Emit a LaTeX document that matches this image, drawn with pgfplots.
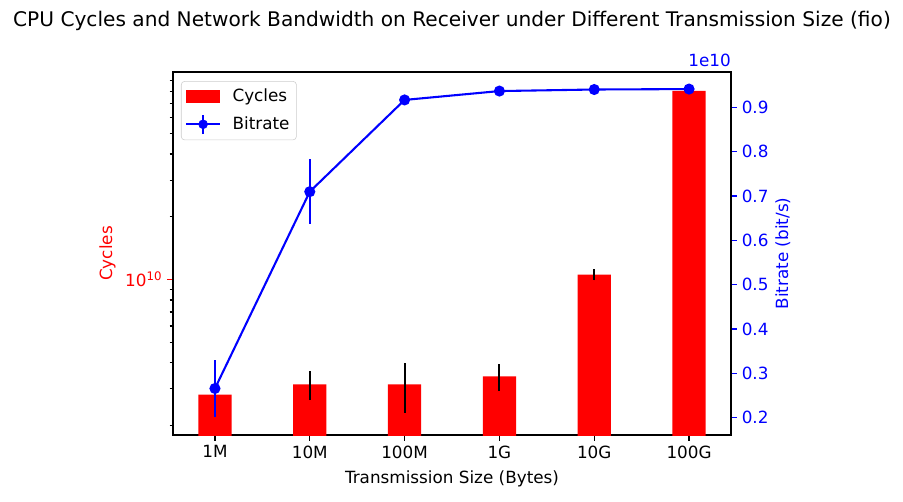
\documentclass[border=0pt]{standalone}
\usepackage{fontspec}
\setmainfont{DejaVu Sans}
\usepackage{pgfplots}
\pgfplotsset{compat=1.18}
\definecolor{legframe}{rgb}{0.8,0.8,0.8}

\pgfplotstableread{
x  y       e
0  2.815e9 0
1  3.146e9 0.50e9
2  3.146e9 0.84e9
3  3.434e9 0.50e9
4  1.057e10 0.064e10
5  8.03e10 0
}\cycles

% bitrate in units of 1e10 bit/s
\pgfplotstableread{
x  y      e
0  0.266  0.065
1  0.710  0.073
2  0.917  0.004
3  0.937  0.003
4  0.9405 0.002
5  0.9415 0.002
}\bitrate

\begin{document}
\begin{tikzpicture}[font=\fontsize{12.1}{14}\selectfont]
\pgfplotsset{
  every axis/.append style={
    width=401.8pt, height=261.4pt, scale only axis,
    xmin=-0.4425, xmax=5.4425,
    tick align=outside,
    major tick length=4.2pt, minor tick length=2.4pt,
    axis line style={line width=0.9pt},
    every tick/.style={line width=0.9pt},
    /pgf/number format/assume math mode=true,
  },
}
\begin{axis}[
  name=ax,
  ymode=log, ymin=1.8e9, ymax=9.9e10,
  xtick={0,...,5}, xticklabels={1M,10M,100M,1G,10G,100G},
  xtick pos=bottom, ytick pos=left,
  ytick={1e10}, yticklabels={10\textsuperscript{10}},
  minor ytick={2e9,3e9,4e9,5e9,6e9,7e9,8e9,9e9,2e10,3e10,4e10,5e10,6e10,7e10,8e10,9e10},
  yticklabel style={red},
  major y tick style={red},
  xlabel={Transmission Size (Bytes)},
  xlabel style={yshift=-2pt},
  ylabel={Cycles}, ylabel style={red, yshift=0pt},
  legend style={at={(0.0143,0.975)}, anchor=north west, draw=legframe,
    rounded corners=2.5pt, inner xsep=3pt, inner ysep=3.5pt, row sep=5pt,
    font=\fontsize{12.1}{14}\selectfont, cells={anchor=west}},
]
\addplot[ybar, bar width=0.35, fill=red, draw=none,
  legend image code/.code={\fill[red, sharp corners] (0pt,-4.5pt) rectangle (24pt,4.5pt);
    \path (31pt,0pt);},
  error bars/.cd, y dir=both, y explicit, error mark=none,
  error bar style={black, line width=1.5pt}]
  table[x=x, y=y, y error=e] {\cycles};
\addlegendentry{Cycles}
\addlegendimage{legend image code/.code={
  \draw[blue, line width=1.5pt, sharp corners] (0pt,0pt) -- (24pt,0pt);
  \draw[blue, line width=1.5pt, sharp corners] (12pt,-7pt) -- (12pt,7pt);
  \fill[blue] (12pt,0pt) circle (3.2pt);
  \path (31pt,0pt);}}
\addlegendentry{Bitrate}
\end{axis}
\begin{axis}[
  axis x line=none, axis y line*=right,
  ymin=0.161, ymax=0.98,
  ytick={0.2,0.3,0.4,0.5,0.6,0.7,0.8,0.9},
  yticklabels={0.2,0.3,0.4,0.5,0.6,0.7,0.8,0.9},
  yticklabel style={blue}, y tick style={blue},
  ylabel={Bitrate (bit/s)}, ylabel style={blue, yshift=2pt},
]
\addplot[blue, line width=1.5pt, mark=*, mark size=3.2pt,
  error bars/.cd, y dir=both, y explicit, error mark=none,
  error bar style={blue, line width=1.5pt}]
  table[x=x, y=y, y error=e] {\bitrate};
\end{axis}
\node[anchor=base, font=\fontsize{14.5}{17}\selectfont] at ([yshift=32.4pt]ax.north)
  {CPU Cycles and Network Bandwidth on Receiver under Different Transmission Size (fio)};
\node[anchor=base east, blue, inner sep=0pt] at ([yshift=3.6pt]ax.north east) {1e10};
\pgfresetboundingbox
\path[use as bounding box] ([xshift=-124.56pt,yshift=-47.52pt]ax.south west)
  rectangle ([xshift=123.84pt,yshift=51.84pt]ax.north east);
\end{tikzpicture}
\end{document}
